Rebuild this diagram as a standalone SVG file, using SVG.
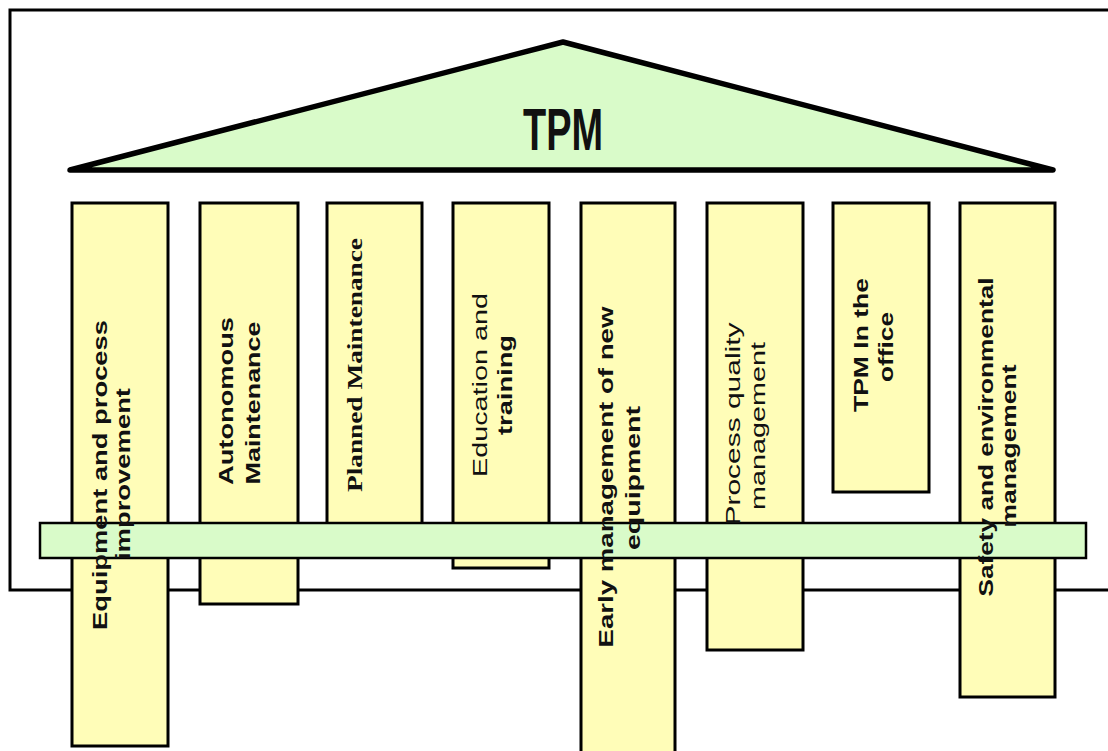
<svg xmlns="http://www.w3.org/2000/svg" width="1108" height="751" viewBox="0 0 1108 751">
  <style>
    .pillar { fill: #FFFDB8; stroke: #000; stroke-width: 3; }
    .green { fill: #D9FBC9; stroke: #000; }
    .lbl { font-family: "Liberation Sans", Arial, sans-serif; font-size: 20px; fill: #111; text-anchor: middle; }
    .b { font-weight: bold; }
    .serif { font-family: "Liberation Serif", "Times New Roman", serif; font-weight: bold; }
  </style>
  <rect x="0" y="0" width="1108" height="751" fill="#fff"/>
  <g id="frame">
    <path d="M1108,10 H10 V590 H1108" fill="none" stroke="#000" stroke-width="3"/>
  </g>
  <g id="roof">
    <path d="M70,170 L563,42 L1053,170 Z" class="green" stroke-width="5.5" stroke-linejoin="round"/>
    <text x="563" y="150" font-family="'Liberation Sans', Arial, sans-serif" font-weight="bold" font-size="60" text-anchor="middle" textLength="80" lengthAdjust="spacingAndGlyphs" fill="#111">TPM</text>
  </g>
  <g id="pillars">
    <rect id="p1" class="pillar" x="72" y="203" width="96" height="543"/>
    <rect id="p2" class="pillar" x="200" y="203" width="98" height="401"/>
    <rect id="p3" class="pillar" x="327" y="203" width="95" height="337"/>
    <rect id="p4" class="pillar" x="453" y="203" width="96" height="365"/>
    <rect id="p5" class="pillar" x="581" y="203" width="94" height="560"/>
    <rect id="p6" class="pillar" x="707" y="203" width="96" height="447"/>
    <rect id="p7" class="pillar" x="833" y="203" width="96" height="289"/>
    <rect id="p8" class="pillar" x="960" y="203" width="95" height="494"/>
  </g>
  <g id="foundation">
    <rect class="green" x="40" y="523" width="1046" height="35" stroke-width="2.5"/>
  </g>
  <g id="label-p1">
    <text class="lbl b" transform="translate(107,475) rotate(-90)" textLength="310" lengthAdjust="spacingAndGlyphs">Equipment and process</text>
    <text class="lbl b" transform="translate(130,474) rotate(-90)" textLength="172" lengthAdjust="spacingAndGlyphs">improvement</text>
  </g>
  <g id="label-p2">
    <text class="lbl b" transform="translate(233,401) rotate(-90)" textLength="168" lengthAdjust="spacingAndGlyphs">Autonomous</text>
    <text class="lbl b" transform="translate(260,403) rotate(-90)" textLength="163" lengthAdjust="spacingAndGlyphs">Maintenance</text>
  </g>
  <g id="label-p3">
    <text class="lbl serif" transform="translate(362,365) rotate(-90)" textLength="254" lengthAdjust="spacingAndGlyphs">Planned Maintenance</text>
  </g>
  <g id="label-p4">
    <text class="lbl" transform="translate(487,385) rotate(-90)" textLength="184" lengthAdjust="spacingAndGlyphs">Education and</text>
    <text class="lbl b" transform="translate(512,385) rotate(-90)" textLength="100" lengthAdjust="spacingAndGlyphs">training</text>
  </g>
  <g id="label-p5">
    <text class="lbl b" transform="translate(613,477) rotate(-90)" textLength="341" lengthAdjust="spacingAndGlyphs">Early management of new</text>
    <text class="lbl b" transform="translate(640,478) rotate(-90)" textLength="144" lengthAdjust="spacingAndGlyphs">equipment</text>
  </g>
  <g id="label-p6">
    <text class="lbl" transform="translate(740,424) rotate(-90)" textLength="203" lengthAdjust="spacingAndGlyphs">Process quality</text>
    <text class="lbl" transform="translate(765,426) rotate(-90)" textLength="168" lengthAdjust="spacingAndGlyphs">management</text>
  </g>
  <g id="label-p7">
    <text class="lbl b" transform="translate(868,345) rotate(-90)" textLength="134" lengthAdjust="spacingAndGlyphs">TPM In the</text>
    <text class="lbl b" transform="translate(893,347) rotate(-90)" textLength="70" lengthAdjust="spacingAndGlyphs">office</text>
  </g>
  <g id="label-p8">
    <text class="lbl b" transform="translate(993,437) rotate(-90)" textLength="319" lengthAdjust="spacingAndGlyphs">Safety and environmental</text>
    <text class="lbl b" transform="translate(1016,446) rotate(-90)" textLength="163" lengthAdjust="spacingAndGlyphs">management</text>
  </g>
</svg>
